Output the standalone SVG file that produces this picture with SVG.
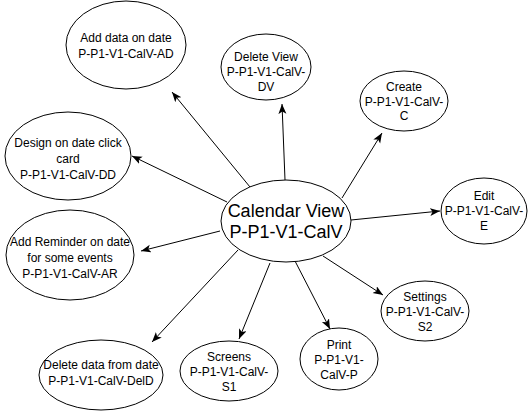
<svg xmlns="http://www.w3.org/2000/svg" width="531" height="411" viewBox="0 0 531 411">
<style>
.n{fill:#fff;stroke:#000;stroke-width:1}
.t{font-family:"Liberation Sans",Arial,sans-serif;font-size:12px;fill:#000;text-anchor:middle}
.big{font-size:18px}
.e{stroke:#000;stroke-width:1;fill:none;marker-end:url(#ah)}
</style>
<defs>
<marker id="ah" markerUnits="userSpaceOnUse" markerWidth="12" markerHeight="10" refX="10" refY="4" orient="auto">
<path d="M0,0 L10,4 L0,8 L2.5,4 z" fill="#000"/>
</marker>
</defs>
<rect width="531" height="411" fill="#fff"/>
<g id="connectors">
<line class="e" x1="250" y1="187" x2="172" y2="92"/>
<line class="e" x1="285" y1="180" x2="282" y2="104"/>
<line class="e" x1="342" y1="198" x2="382" y2="133"/>
<line class="e" x1="227" y1="202" x2="132" y2="156"/>
<line class="e" x1="351" y1="220" x2="440" y2="211"/>
<line class="e" x1="220" y1="231" x2="141" y2="251"/>
<line class="e" x1="323" y1="256" x2="383" y2="295"/>
<line class="e" x1="238" y1="250" x2="152" y2="342"/>
<line class="e" x1="270" y1="263" x2="239" y2="339"/>
<line class="e" x1="295" y1="261" x2="330" y2="329"/>
</g>
<g id="add-data">
<ellipse class="n" cx="126" cy="45" rx="60" ry="44"/>
<text class="t" x="126" y="42">Add data on date</text>
<text class="t" x="126" y="58">P-P1-V1-CalV-AD</text>
</g>
<g id="delete-view">
<ellipse class="n" cx="266" cy="67" rx="45" ry="33"/>
<text class="t" x="266" y="61">Delete View</text>
<text class="t" x="266" y="76">P-P1-V1-CalV-</text>
<text class="t" x="266" y="91">DV</text>
</g>
<g id="create">
<ellipse class="n" cx="404" cy="101" rx="44" ry="30"/>
<text class="t" x="404" y="91">Create</text>
<text class="t" x="404" y="106">P-P1-V1-CalV-</text>
<text class="t" x="404" y="120">C</text>
</g>
<g id="design">
<ellipse class="n" cx="68" cy="156" rx="63" ry="44"/>
<text class="t" x="68" y="147">Design on date click</text>
<text class="t" x="68" y="163">card</text>
<text class="t" x="68" y="179">P-P1-V1-CalV-DD</text>
</g>
<g id="calendar-view">
<ellipse class="n" cx="286" cy="221" rx="65" ry="41"/>
<text class="t big" x="286" y="217">Calendar View</text>
<text class="t big" x="286" y="238">P-P1-V1-CalV</text>
</g>
<g id="edit">
<ellipse class="n" cx="484" cy="211" rx="43" ry="33"/>
<text class="t" x="484" y="200">Edit</text>
<text class="t" x="484" y="215">P-P1-V1-CalV-</text>
<text class="t" x="484" y="230">E</text>
</g>
<g id="add-reminder">
<ellipse class="n" cx="70" cy="255" rx="64" ry="45"/>
<text class="t" x="70" y="246">Add Reminder on date</text>
<text class="t" x="70" y="262">for some events</text>
<text class="t" x="70" y="278">P-P1-V1-CalV-AR</text>
</g>
<g id="settings">
<ellipse class="n" cx="425" cy="311" rx="44" ry="30"/>
<text class="t" x="425" y="301">Settings</text>
<text class="t" x="425" y="316">P-P1-V1-CalV-</text>
<text class="t" x="425" y="331">S2</text>
</g>
<g id="delete-data">
<ellipse class="n" cx="101" cy="375" rx="62" ry="35"/>
<text class="t" x="101" y="369">Delete data from date</text>
<text class="t" x="101" y="385">P-P1-V1-CalV-DelD</text>
</g>
<g id="screens">
<ellipse class="n" cx="229" cy="371" rx="49" ry="30"/>
<text class="t" x="229" y="361">Screens</text>
<text class="t" x="229" y="376">P-P1-V1-CalV-</text>
<text class="t" x="229" y="391">S1</text>
</g>
<g id="print">
<ellipse class="n" cx="339" cy="359" rx="39" ry="31"/>
<text class="t" x="339" y="349">Print</text>
<text class="t" x="339" y="364">P-P1-V1-</text>
<text class="t" x="339" y="379">CalV-P</text>
</g>
</svg>
